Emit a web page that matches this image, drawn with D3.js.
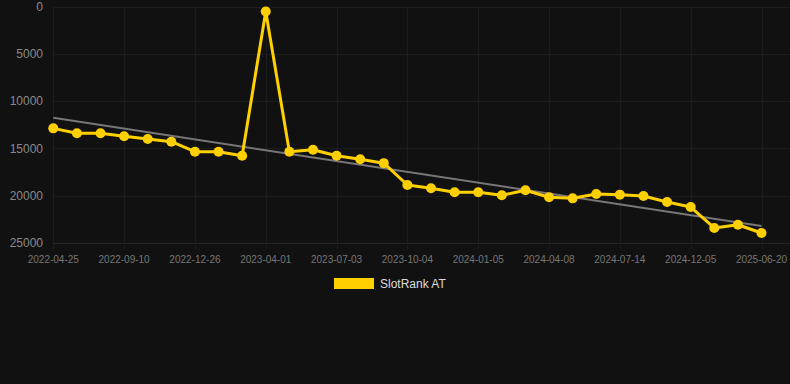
<!DOCTYPE html>
<html>
<head>
<meta charset="utf-8">
<script src="https://cdn.jsdelivr.net/npm/d3@7"></script>
<style>
html,body{margin:0;padding:0;background:#111111;}
svg{display:block;}
</style>
</head>
<body>
<svg id="chart" width="790" height="384"></svg>
<script>
const categories = ["2022-04-25","2022-06-10","2022-07-26","2022-09-10","2022-10-13","2022-11-19","2022-12-26","2023-01-28","2023-03-01","2023-04-01","2023-05-03","2023-06-02","2023-07-03","2023-08-05","2023-09-04","2023-10-04","2023-11-03","2023-12-05","2024-01-05","2024-02-06","2024-03-08","2024-04-08","2024-05-10","2024-06-12","2024-07-14","2024-08-30","2024-10-17","2024-12-05","2025-02-10","2025-04-15","2025-06-20"];
const seriesName = "SlotRank AT";
const values = [12880,13390,13390,13710,14010,14290,15350,15350,15770,530,15350,15140,15770,16150,16560,18870,19220,19640,19640,19960,19430,20170,20280,19820,19890,20030,20670,21200,23410,23070,23940];
const trendValues = [11760, 23200];
const yTicks = [0,5000,10000,15000,20000,25000];
const xTickLabels = ["2022-04-25","2022-09-10","2022-12-26","2023-04-01","2023-07-03","2023-10-04","2024-01-05","2024-04-08","2024-07-14","2024-12-05","2025-06-20"];
const xTickIdx = [0,3,6,9,12,15,18,21,24,27,30];

const svg = d3.select("#chart");
const mLeft = 53, mRight = 790, mTop = 6.5, mBottom = 243;
const x = d3.scalePoint().domain(d3.range(categories.length)).range([53.3, 761.5]);
const y = d3.scaleLinear().domain([0,25000]).range([mTop, mBottom]);

// horizontal grid
svg.append("g").selectAll("line").data(yTicks).join("line")
  .attr("x1", mLeft).attr("x2", mRight)
  .attr("y1", d=>Math.round(y(d))+0.5).attr("y2", d=>Math.round(y(d))+0.5)
  .attr("stroke", d=> d===25000 ? "#262626" : "#1c1c1c").attr("stroke-width",1);
// vertical grid
svg.append("g").selectAll("line").data(xTickIdx).join("line")
  .attr("x1", d=>Math.round(x(d))+0.5).attr("x2", d=>Math.round(x(d))+0.5)
  .attr("y1", mTop).attr("y2", mBottom+6)
  .attr("stroke", "#1c1c1c").attr("stroke-width",1);

// y labels
svg.append("g").selectAll("text").data(yTicks).join("text")
  .attr("x", 43).attr("y", d=>y(d)).attr("dy","0.35em")
  .attr("text-anchor","end")
  .attr("font-family","Liberation Sans, Arial, sans-serif").attr("font-size",12)
  .attr("fill","#8a8a8a").text(d=>d);

// x labels
svg.append("g").selectAll("text").data(xTickIdx).join("text")
  .attr("x", d=>x(d)).attr("y", 263)
  .attr("text-anchor","middle")
  .attr("font-family","Liberation Sans, Arial, sans-serif").attr("font-size",10)
  .attr("fill","#777777").text((d,i)=>xTickLabels[i]);

// trend line
svg.append("line")
  .attr("x1", x(0)).attr("x2", x(categories.length-1))
  .attr("y1", y(trendValues[0])).attr("y2", y(trendValues[1]))
  .attr("stroke","#777777").attr("stroke-width",2);

// series line
const line = d3.line().x((d,i)=>x(i)).y(d=>y(d));
svg.append("path").datum(values)
  .attr("d", line).attr("fill","none")
  .attr("stroke","#FFD000").attr("stroke-width",3).attr("stroke-linejoin","round");
svg.append("g").selectAll("circle").data(values).join("circle")
  .attr("cx",(d,i)=>x(i)).attr("cy",d=>y(d)).attr("r",5)
  .attr("fill","#FFD000");

// legend
svg.append("rect").attr("x",334).attr("y",278).attr("width",40).attr("height",11).attr("fill","#FFD000");
svg.append("text").attr("x",380).attr("y",284).attr("dy","0.35em")
  .attr("font-family","Liberation Sans, Arial, sans-serif").attr("font-size",12)
  .attr("fill","#dddddd").text(seriesName);
</script>
</body>
</html>
